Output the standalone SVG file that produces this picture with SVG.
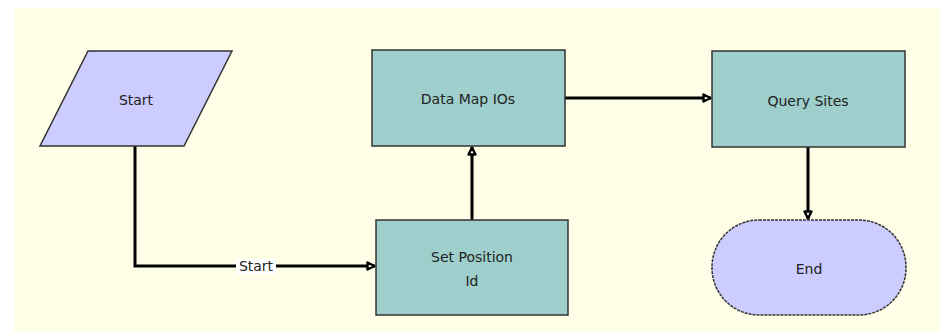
<svg xmlns="http://www.w3.org/2000/svg" width="940" height="333" viewBox="0 0 940 333">
<defs>
<style>
.proc{fill:#9ecfcc;stroke:#333;stroke-width:1.5}
.io{fill:#ccccff;stroke:#333;stroke-width:1.5}
.lbl{font-family:"DejaVu Sans",sans-serif;font-size:14px;fill:#222;text-anchor:middle}
.edge{fill:none;stroke:#000;stroke-width:3}
</style>
<marker id="arr" viewBox="0 0 10 10" refX="9" refY="5" markerWidth="10" markerHeight="10" markerUnits="userSpaceOnUse" orient="auto">
<path d="M1.5,1.5 L8.5,5 L1.5,8.5 Z" fill="#fff" stroke="#000" stroke-width="2.4" stroke-linejoin="round"/>
</marker>
</defs>
<rect x="0" y="0" width="940" height="333" fill="#ffffff"/>
<rect x="14" y="8" width="926" height="324" fill="#ffffe8"/>
<g id="edges">
<polyline class="edge" points="135,146 135,266 375,266" marker-end="url(#arr)"/>
<polyline class="edge" points="472,220 472,147" marker-end="url(#arr)"/>
<polyline class="edge" points="565,98 711,98" marker-end="url(#arr)"/>
<polyline class="edge" points="808,147 808,219" marker-end="url(#arr)"/>
<rect x="236" y="259" width="40" height="15" fill="#fff"/>
<text class="lbl" x="256" y="271">Start</text>
</g>
<g id="start">
<polygon class="io" points="88,51 232,51 184,146 40,146"/>
<text class="lbl" x="136" y="105">Start</text>
</g>
<g id="setpos">
<rect class="proc" x="376" y="220" width="192" height="95"/>
<text class="lbl" x="472" y="262">Set Position</text>
<text class="lbl" x="472" y="286">Id</text>
</g>
<g id="datamap">
<rect class="proc" x="372" y="50" width="193" height="96"/>
<text class="lbl" x="468" y="104">Data Map IOs</text>
</g>
<g id="query">
<rect class="proc" x="712" y="51" width="193" height="96"/>
<text class="lbl" x="808" y="106">Query Sites</text>
</g>
<g id="end">
<rect class="io" x="712" y="220" width="194" height="95" rx="47" ry="47" stroke-dasharray="3,1"/>
<text class="lbl" x="809" y="274">End</text>
</g>
</svg>
